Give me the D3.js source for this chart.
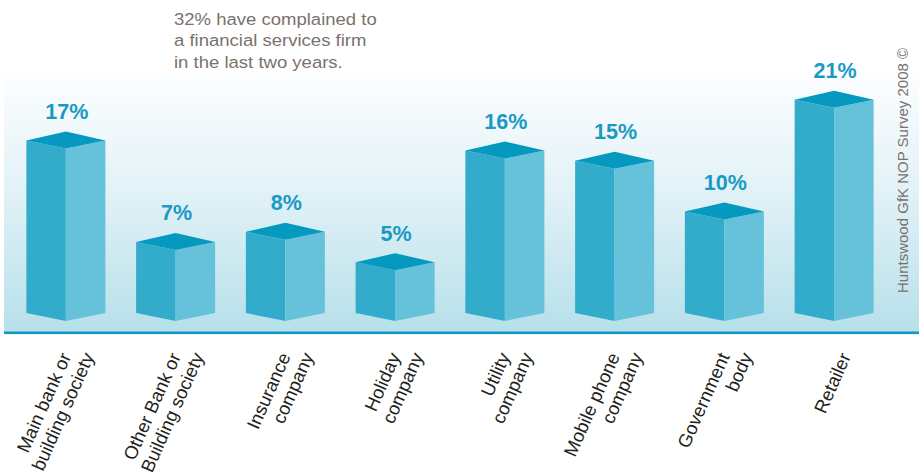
<!DOCTYPE html>
<html>
<head>
<meta charset="utf-8">
<script src="https://cdn.jsdelivr.net/npm/d3@7"></script>
<style>
  html, body { margin: 0; padding: 0; background: #ffffff; }
  svg { display: block; }
</style>
</head>
<body>
<script>
// Where people have complained in the last two years (%)
const categories = [
  ["Main bank or", "building society"],
  ["Other Bank or", "Building society"],
  ["Insurance", "company"],
  ["Holiday", "company"],
  ["Utility", "company"],
  ["Mobile phone", "company"],
  ["Government", "body"],
  ["Retailer"]
];
const values = [17, 7, 8, 5, 16, 15, 10, 21];
const titleLines = [
  "32% have complained to",
  "a financial services firm",
  "in the last two years."
];
const sourceNote = "Huntswood GfK NOP Survey 2008 ©";

const W = 921, H = 475;
const svg = d3.select("body").append("svg")
  .attr("width", W).attr("height", H);

const keys = categories.map(c => c.join(" "));
const x = d3.scaleBand().domain(keys).range([11, 889])
  .paddingInner(0.28).paddingOuter(0.14);
const y = d3.scaleLinear().domain([0, 20]).range([313, 110]);

// plot backdrop with vertical gradient
const defs = svg.append("defs");
const grad = defs.append("linearGradient").attr("id", "bg")
  .attr("x1", 0).attr("y1", 0).attr("x2", 0).attr("y2", 1);
grad.append("stop").attr("offset", "0%").attr("stop-color", "#fdfeff");
grad.append("stop").attr("offset", "45%").attr("stop-color", "#e2f2f7");
grad.append("stop").attr("offset", "100%").attr("stop-color", "#b6e0ea");

svg.append("rect").attr("x", 4).attr("y", 72).attr("width", 915).attr("height", 261)
  .attr("fill", "url(#bg)");

// baseline
svg.append("rect").attr("x", 4).attr("y", 331.5).attr("width", 915).attr("height", 2.6)
  .attr("fill", "#1298c0");

// title text
const title = svg.append("text")
  .attr("transform", "translate(174,0) scale(1.09,1)")
  .attr("font-family", "Liberation Sans, Arial, sans-serif")
  .attr("font-size", 17).attr("fill", "#7a716c");
title.selectAll("tspan").data(titleLines).join("tspan")
  .attr("x", 0).attr("y", (d, i) => 25 + i * 21.5).text(d => d);

// source note, rotated
svg.append("text")
  .attr("transform", "translate(908,293) rotate(-90)")
  .attr("font-family", "Liberation Sans, Arial, sans-serif")
  .attr("font-size", 15).attr("fill", "#7a716c")
  .text(sourceNote);

// 3D boxes
const rise = 9, drop = 8;
const data = keys.map((k, i) => ({ key: k, value: values[i] }));
const bars = svg.append("g").selectAll("g").data(data).join("g");

bars.each(function (d) {
  const g = d3.select(this);
  const l = x(d.key), r = l + x.bandwidth(), c = l + x.bandwidth() / 2;
  const top = y(d.value), base = y(0);
  g.append("path")
    .attr("d", `M${l},${top} L${c},${top + drop} L${c},${base + drop} L${l},${base} Z`)
    .attr("fill", "#33accb");
  g.append("path")
    .attr("d", `M${c},${top + drop} L${r},${top} L${r},${base} L${c},${base + drop} Z`)
    .attr("fill", "#66c2da");
  g.append("path")
    .attr("d", `M${l},${top} L${c},${top - rise} L${r},${top} L${c},${top + drop} Z`)
    .attr("fill", "#0599bf");
  g.append("text")
    .attr("x", c + 1).attr("y", top - rise - 12.5)
    .attr("text-anchor", "middle")
    .attr("font-family", "Liberation Sans, Arial, sans-serif")
    .attr("font-weight", "bold").attr("font-size", 21.5)
    .attr("fill", "#1a9ac3")
    .text(d.value + "%");
});

// rotated category labels
const angle = -66;
const rad = angle * Math.PI / 180;
const fs = 18.5;
const cap = fs * 0.716;
categories.forEach((lines, i) => {
  const c = x(keys[i]) + x.bandwidth() / 2;
  const n = lines.length;
  lines.forEach((t, j) => {
    const tx = c + 5 + (j - (n - 1) / 2) * 23;
    const ty = 351;
    // move from glyph top corner to baseline end
    const bx = tx + cap * Math.sin(-rad);
    const by = ty + cap * Math.cos(rad);
    svg.append("text")
      .attr("transform", `translate(${bx},${by}) rotate(${angle})`)
      .attr("text-anchor", "end")
      .attr("font-family", "Liberation Sans, Arial, sans-serif")
      .attr("font-size", fs).attr("fill", "#231f20")
      .text(t);
  });
});
</script>
</body>
</html>
